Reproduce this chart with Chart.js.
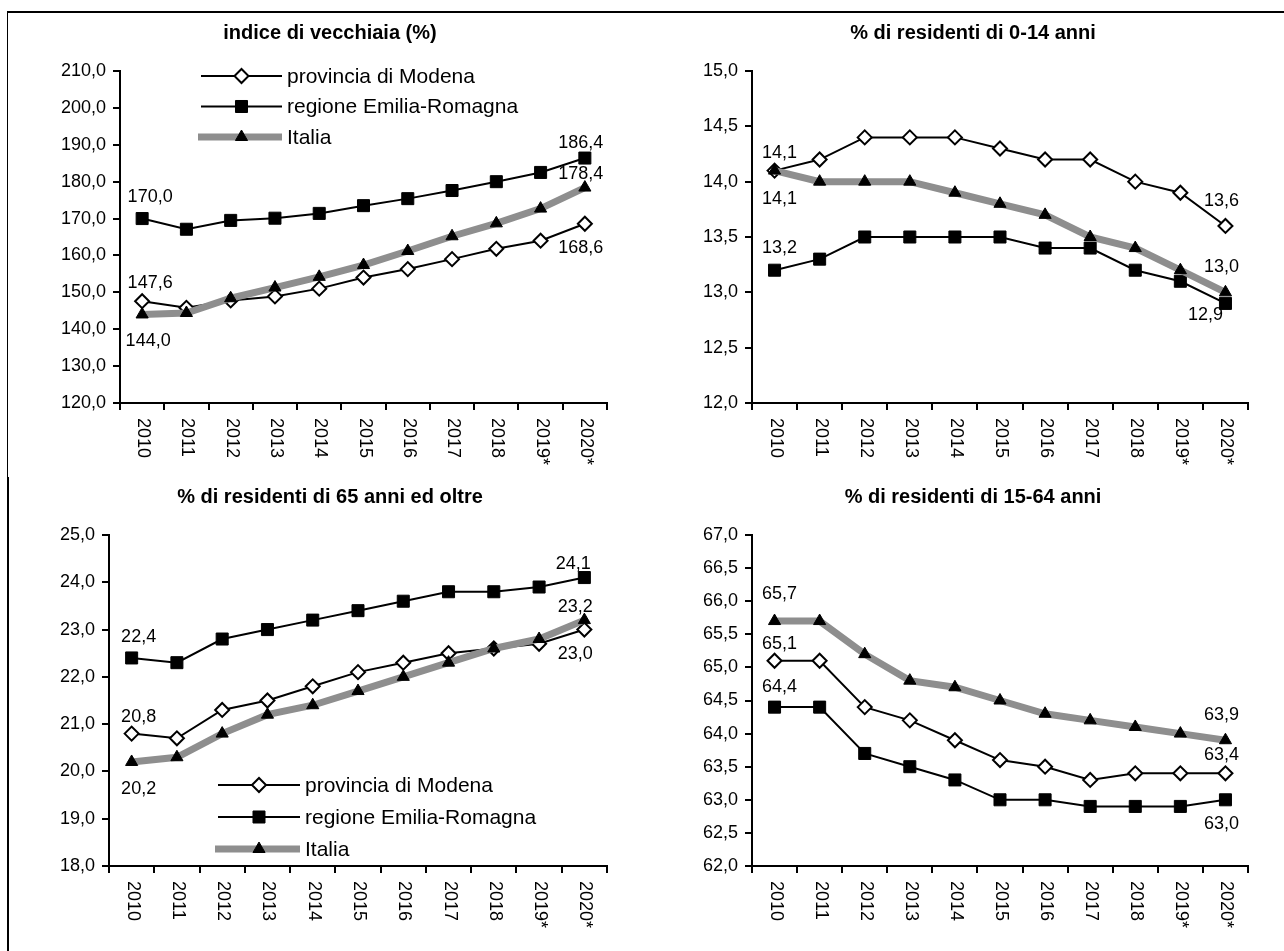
<!DOCTYPE html>
<html>
<head>
<meta charset="utf-8">
<script src="https://cdn.jsdelivr.net/npm/chart.js@4.4.1/dist/chart.umd.min.js"></script>
<style>
  html, body { margin: 0; padding: 0; background: #fff; }
  body { width: 1284px; height: 951px; position: relative; overflow: hidden; }
  .frame { position: absolute; background: #000; }
  canvas { position: absolute; }
</style>
</head>
<body>
<div class="frame" style="left:7px;top:11px;width:1277px;height:2px"></div>
<div class="frame" style="left:7px;top:11px;width:1px;height:466px"></div>
<div class="frame" style="left:7px;top:477px;width:2px;height:474px"></div>

<canvas id="c1" width="556" height="470" style="left:53px;top:14px"></canvas>
<canvas id="c2" width="552" height="470" style="left:698px;top:14px"></canvas>
<canvas id="c3" width="556" height="467" style="left:53px;top:484px"></canvas>
<canvas id="c4" width="552" height="467" style="left:698px;top:484px"></canvas>

<script>
// categories
const years = ['2010', '2011', '2012', '2013', '2014', '2015', '2016', '2017', '2018', '2019*', '2020*'];
const seriesNames = ['provincia di Modena', 'regione Emilia-Romagna', 'Italia'];

// indice di vecchiaia (%)
const vecchiaiaModena  = [147.6, 145.8, 147.8, 148.9, 151.0, 154.0, 156.3, 159.0, 161.8, 164.0, 168.6];
const vecchiaiaRegione = [170.0, 167.1, 169.5, 170.1, 171.4, 173.5, 175.4, 177.6, 180.0, 182.5, 186.4];
const vecchiaiaItalia  = [144.0, 144.4, 148.4, 151.3, 154.2, 157.4, 161.2, 165.2, 168.7, 172.7, 178.4];

// % di residenti di 0-14 anni
const giovaniModena  = [14.1, 14.2, 14.4, 14.4, 14.4, 14.3, 14.2, 14.2, 14.0, 13.9, 13.6];
const giovaniRegione = [13.2, 13.3, 13.5, 13.5, 13.5, 13.5, 13.4, 13.4, 13.2, 13.1, 12.9];
const giovaniItalia  = [14.1, 14.0, 14.0, 14.0, 13.9, 13.8, 13.7, 13.5, 13.4, 13.2, 13.0];

// % di residenti di 65 anni ed oltre
const anzianiModena  = [20.8, 20.7, 21.3, 21.5, 21.8, 22.1, 22.3, 22.5, 22.6, 22.7, 23.0];
const anzianiRegione = [22.4, 22.3, 22.8, 23.0, 23.2, 23.4, 23.6, 23.8, 23.8, 23.9, 24.1];
const anzianiItalia  = [20.2, 20.3, 20.8, 21.2, 21.4, 21.7, 22.0, 22.3, 22.6, 22.8, 23.2];

// % di residenti di 15-64 anni
const attiviModena  = [65.1, 65.1, 64.4, 64.2, 63.9, 63.6, 63.5, 63.3, 63.4, 63.4, 63.4];
const attiviRegione = [64.4, 64.4, 63.7, 63.5, 63.3, 63.0, 63.0, 62.9, 62.9, 62.9, 63.0];
const attiviItalia  = [65.7, 65.7, 65.2, 64.8, 64.7, 64.5, 64.3, 64.2, 64.1, 64.0, 63.9];

// y axis ticks: [min, max, step]
const yTicks1 = [120, 210, 10];
const yTicks2 = [12, 15, 0.5];
const yTicks3 = [18, 25, 1];
const yTicks4 = [62, 67, 0.5];

Chart.defaults.font.family = '"Liberation Sans", Arial, sans-serif';
Chart.defaults.color = '#000';

const fmt = v => Number(v).toFixed(1).replace('.', ',');

// x labels rotated clockwise (read top to bottom)
const downLabels = {
  id: 'downLabels',
  afterDraw(chart) {
    const xs = chart.scales.x;
    const ctx = chart.ctx;
    ctx.save();
    ctx.font = '18px "Liberation Sans", Arial, sans-serif';
    ctx.fillStyle = '#000';
    ctx.textAlign = 'left';
    ctx.textBaseline = 'middle';
    chart.data.labels.forEach((lab, i) => {
      ctx.save();
      ctx.translate(xs.getPixelForTick(i) + 1, xs.top + 15);
      ctx.rotate(Math.PI / 2);
      ctx.fillText(lab, 0, 0);
      ctx.restore();
    });
    ctx.restore();
  }
};

// values written at first and last point of each series
const endLabels = {
  id: 'endLabels',
  afterDatasetsDraw(chart, args, opts) {
    if (!opts.offsets) return;
    const ctx = chart.ctx;
    ctx.save();
    ctx.font = '18px "Liberation Sans", Arial, sans-serif';
    ctx.fillStyle = '#000';
    ctx.textAlign = 'center';
    ctx.textBaseline = 'middle';
    opts.offsets.forEach((pair, di) => {
      const meta = chart.getDatasetMeta(di);
      const data = chart.data.datasets[di].data;
      [0, data.length - 1].forEach((idx, k) => {
        const pt = meta.data[idx];
        ctx.fillText(fmt(data[idx]), pt.x + pair[k][0], pt.y + pair[k][1]);
      });
    });
    ctx.restore();
  }
};

// legend: line with marker in the middle
const lineLegend = {
  id: 'lineLegend',
  afterDraw(chart, args, opts) {
    if (!opts.show) return;
    const ctx = chart.ctx;
    chart.data.datasets.forEach((ds, i) => {
      const y = opts.y + i * opts.gap;
      ctx.save();
      ctx.strokeStyle = ds.borderColor;
      ctx.lineWidth = ds.borderWidth;
      ctx.beginPath();
      ctx.moveTo(opts.x - (ds.borderWidth > 3 ? 3 : 0), y);
      ctx.lineTo(opts.x + opts.w, y);
      ctx.stroke();
      ctx.fillStyle = ds.pointBackgroundColor;
      ctx.strokeStyle = ds.pointBorderColor;
      ctx.lineWidth = ds.pointBorderWidth;
      Chart.helpers.drawPoint(ctx, {
        pointStyle: ds.pointStyle, radius: ds.pointRadius,
        borderWidth: ds.pointBorderWidth, rotation: 0
      }, opts.x + opts.w / 2, y);
      ctx.fillStyle = '#000';
      ctx.font = '21px "Liberation Sans", Arial, sans-serif';
      ctx.textAlign = 'left';
      ctx.textBaseline = 'middle';
      ctx.fillText(ds.label, opts.x + opts.w + 5, y + 1);
      ctx.restore();
    });
  }
};

function makeDatasets(modena, regione, italia) {
  return [
    {
      label: seriesNames[0], data: modena, order: 3,
      borderColor: '#000', borderWidth: 2,
      pointStyle: 'rectRot', pointRadius: 7,
      pointBackgroundColor: '#fff', pointBorderColor: '#000', pointBorderWidth: 2
    },
    {
      label: seriesNames[1], data: regione, order: 2,
      borderColor: '#000', borderWidth: 2,
      pointStyle: 'rect', pointRadius: 8.5,
      pointBackgroundColor: '#000', pointBorderColor: '#000', pointBorderWidth: 1
    },
    {
      label: seriesNames[2], data: italia, order: 1,
      borderColor: '#8e8e8e', borderWidth: 7,
      pointStyle: 'triangle', pointRadius: 7,
      pointBackgroundColor: '#000', pointBorderColor: '#000', pointBorderWidth: 1
    }
  ];
}

function makeChart(id, title, sets, yt, box, extra) {
  new Chart(document.getElementById(id), {
    type: 'line',
    data: { labels: years, datasets: makeDatasets(...sets) },
    plugins: [downLabels, endLabels, lineLegend],
    options: {
      responsive: false,
      animation: false,
      events: [],
      layout: { autoPadding: false, padding: { left: 0, right: 2, top: 0, bottom: 0 } },
      elements: { line: { tension: 0 } },
      plugins: {
        legend: { display: false },
        tooltip: { enabled: false },
        title: {
          display: true, text: title, color: '#000',
          font: { size: 20, weight: 'bold' },
          padding: { top: box.tTop, bottom: box.tBottom }
        },
        endLabels: { offsets: extra.offsets },
        lineLegend: extra.legend || { show: false }
      },
      scales: {
        x: {
          offset: true,
          ticks: { display: false },
          grid: { offset: true, drawOnChartArea: false, color: '#000', lineWidth: 2, tickLength: 7 },
          border: { color: '#000', width: 2 },
          afterFit(s) { s.height = box.xh; }
        },
        y: {
          min: yt[0], max: yt[1],
          ticks: { stepSize: yt[2], color: '#000', font: { size: 18 }, padding: 7, callback: v => fmt(v) },
          grid: { drawOnChartArea: false, color: '#000', lineWidth: 2, tickLength: 7 },
          border: { color: '#000', width: 2 },
          afterFit(s) { s.width = box.yw; }
        }
      }
    }
  });
}

makeChart('c1', 'indice di vecchiaia (%)', [vecchiaiaModena, vecchiaiaRegione, vecchiaiaItalia], yTicks1,
  { tTop: 7, tBottom: 26, xh: 81, yw: 67 },
  {
    offsets: [[[8, -18], [-4, 24]], [[8, -22], [-4, -15]], [[6, 27], [-4, -14]]],
    legend: { show: true, x: 148, y: 62, w: 81, gap: 30.5 }
  });

makeChart('c2', '% di residenti di 0-14 anni', [giovaniModena, giovaniRegione, giovaniItalia], yTicks2,
  { tTop: 7, tBottom: 26, xh: 81, yw: 54 },
  { offsets: [[[5, -18], [-4, -25]], [[5, -22], [-20, 12]], [[5, 28], [-4, -25]]] });

makeChart('c3', '% di residenti di 65 anni ed oltre', [anzianiModena, anzianiRegione, anzianiItalia], yTicks3,
  { tTop: 1, tBottom: 26, xh: 85, yw: 56 },
  {
    offsets: [[[7, -17], [-9, 24]], [[7, -21], [-11, -14]], [[7, 27], [-9, -13]]],
    legend: { show: true, x: 165, y: 301, w: 82, gap: 32 }
  });

makeChart('c4', '% di residenti di 15-64 anni', [attiviModena, attiviRegione, attiviItalia], yTicks4,
  { tTop: 1, tBottom: 26, xh: 85, yw: 54 },
  { offsets: [[[5, -17], [-4, -18]], [[5, -20], [-4, 24]], [[5, -27], [-4, -25]]] });
</script>
</body>
</html>
